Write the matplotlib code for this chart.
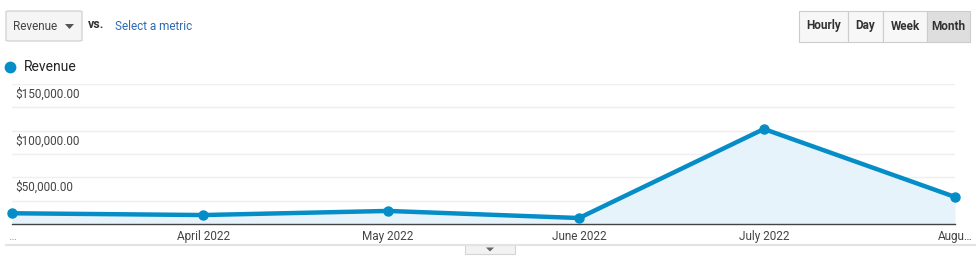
import matplotlib
matplotlib.use('Agg')
import matplotlib.pyplot as plt
from matplotlib.patches import Rectangle, FancyBboxPatch, Polygon
from matplotlib.lines import Line2D
import matplotlib.transforms as mtransforms
import numpy as np

plt.rcParams['font.family'] = ['Roboto', 'DejaVu Sans']

# ── Data ──
months = np.array(['2022-03-01', '2022-04-01', '2022-05-01', '2022-06-01',
                   '2022-07-01', '2022-08-01'], dtype='datetime64[D]')
tick_labels = ['…', 'April 2022', 'May 2022', 'June 2022', 'July 2022', 'Augu…']
revenue = [11500, 9600, 14000, 6400, 101800, 29000]
y_ticks = [50000, 100000, 150000]
y_tick_labels = ['$50,000.00', '$100,000.00', '$150,000.00']
buttons = ['Hourly', 'Day', 'Week', 'Month']

W, H = 980, 268
BLUE = '#058dc7'
TXT = '#444444'

fig = plt.figure(figsize=(W / 100, H / 100), dpi=100)


def fx(x):
    return x / W


def fy(y):
    return 1 - y / H


# chart axes (pixel box: x 12..955, y 84..224)
ax = fig.add_axes([fx(12), fy(224), fx(955) - fx(12), (224 - 84) / H])
x = (months - months[0]).astype(int)
ax.fill_between(x, revenue, 0, color='#e6f3fa', lw=0, zorder=1)
ax.plot(x, revenue, '-o', color=BLUE, lw=3.2, ms=6.5, zorder=3, clip_on=False)
ax.set_xlim(x[0], x[-1])
ax.set_ylim(0, 150000)
for v in range(25000, 150001, 25000):
    ax.axhline(v, color='#efefef', lw=1, zorder=0)
for s in ['top', 'right', 'left']:
    ax.spines[s].set_visible(False)
ax.spines['bottom'].set_color('#444444')
ax.spines['bottom'].set_linewidth(1.0)
ax.set_yticks([])
ax.set_xticks(x)
ax.set_xticklabels(tick_labels, fontsize=8.5, color=TXT)
ax.tick_params(axis='x', length=0, pad=4)
ax.get_xticklabels()[0].set_color('#999999')
trans = mtransforms.blended_transform_factory(fig.transFigure, ax.transData)
off = mtransforms.ScaledTranslation(0, -10 / 100, fig.dpi_scale_trans)
for v, lab in zip(y_ticks, y_tick_labels):
    ax.text(fx(15), v, lab, transform=trans + off, fontsize=8.5, color=TXT,
            ha='left', va='center', zorder=4)

# ── header: metric dropdown ──
fig.add_artist(FancyBboxPatch((fx(6), fy(41)), fx(76), 30 / H,
                              boxstyle='round,pad=0,rounding_size=0.003',
                              fc='#f5f5f5', ec='#cccccc', lw=0.8))
fig.text(fx(13), fy(26), 'Revenue', fontsize=8.5, color=TXT, va='center')
fig.add_artist(Polygon([(fx(65), fy(24)), (fx(74), fy(24)), (fx(69.5), fy(29))],
                       closed=True, fc='#555555', ec='none'))
fig.text(fx(88), fy(24), 'vs.', fontsize=9, color='#333333', fontweight='bold', va='center')
fig.text(fx(115), fy(26), 'Select a metric', fontsize=8.5, color='#2c6bb3', va='center')

# ── header: time buttons ──
bx = [799, 848, 883, 927, 970]
for i, b in enumerate(buttons):
    fc = '#dedede' if b == 'Month' else '#f7f7f7'
    fig.add_artist(Rectangle((fx(bx[i]), fy(42)), fx(bx[i + 1] - bx[i]), 31 / H,
                             fc=fc, ec='#cccccc', lw=0.8))
    fig.text(fx((bx[i] + bx[i + 1]) / 2), fy(26), b, fontsize=8.5, color='#333333',
             fontweight='bold', ha='center', va='center')

# ── legend ──
fig.add_artist(Line2D([fx(10)], [fy(67)], marker='o', ms=8.5, color=BLUE, mec='none', lw=0))
fig.text(fx(24), fy(67), 'Revenue', fontsize=10, color='#222222', va='center')

# ── bottom divider and collapse tab ──
fig.add_artist(Line2D([fx(6), fx(975)], [fy(245), fy(245)], color='#e3e3e3', lw=1.5))
fig.add_artist(Rectangle((fx(465), fy(254)), fx(50), 9 / H, fc='#f2f2f2', ec='#d5d5d5', lw=0.8))
fig.add_artist(Polygon([(fx(486), fy(247.5)), (fx(494), fy(247.5)), (fx(490), fy(251.5))],
                       closed=True, fc='#666666', ec='none'))

fig.savefig('out.png', dpi=100, facecolor='white')
